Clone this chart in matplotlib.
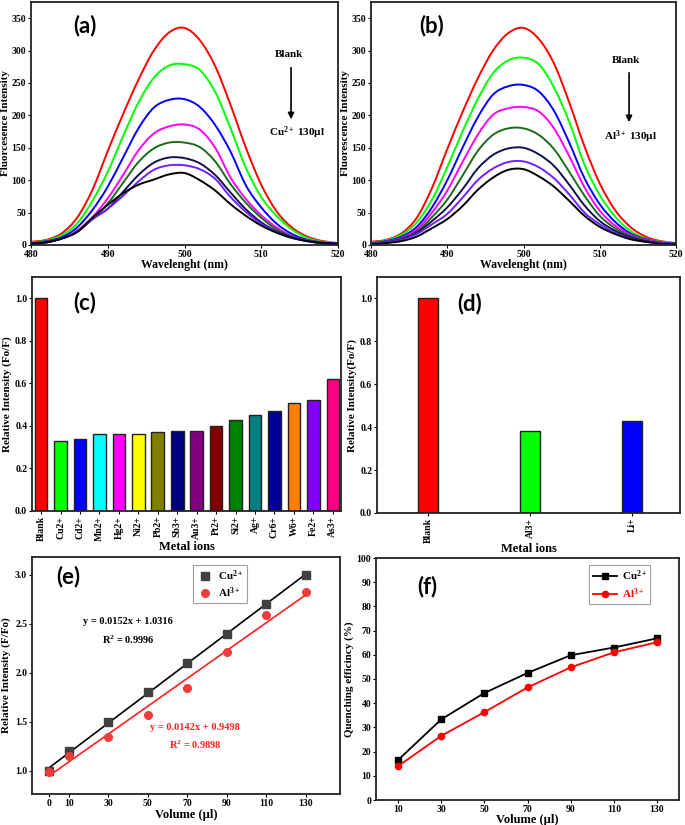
import numpy as np
import matplotlib
matplotlib.use('Agg')
import matplotlib.pyplot as plt
from matplotlib.path import Path
from matplotlib.patches import PathPatch

plt.rcParams['font.family'] = ['Liberation Serif', 'DejaVu Serif']
plt.rcParams['font.weight'] = 'bold'
plt.rcParams['mathtext.fontset'] = 'custom'
plt.rcParams['mathtext.rm'] = 'Liberation Serif:bold'
plt.rcParams['mathtext.it'] = 'Liberation Serif:bold'
plt.rcParams['mathtext.bf'] = 'Liberation Serif:bold'

# ---- data ----
wavelength = np.arange(480, 521, 2)
curve_colors = ['#ff0000', '#00ff00', '#0000ff', '#ff00ff', '#1a6b1a', '#10104f', '#7020ff', '#000000']

cu_spectra = [
    [5, 8, 18, 42, 85, 145, 202, 255, 300, 328, 335, 316, 276, 216, 150, 93, 52, 27, 13, 6, 3],
    [4, 7, 15, 33, 68, 113, 168, 220, 258, 277, 279, 270, 236, 180, 119, 74, 45, 24, 11, 5, 3],
    [3, 6, 12, 27, 54, 90, 135, 180, 212, 224, 225, 213, 185, 144, 92, 58, 33, 17, 8, 4, 2],
    [3, 5, 10, 22, 43, 72, 108, 146, 172, 183, 186, 178, 150, 104, 71, 46, 27, 14, 7, 3, 2],
    [2, 5, 10, 21, 40, 64, 96, 128, 149, 158, 158, 151, 129, 94, 65, 42, 24, 13, 7, 3, 2],
    [2, 4, 10, 20, 40, 56, 82, 108, 127, 135, 134, 126, 108, 81, 55, 35, 21, 12, 6, 3, 2],
    [2, 4, 10, 21, 40, 56, 76, 98, 116, 123, 123, 117, 102, 74, 51, 33, 20, 11, 6, 3, 2],
    [2, 4, 10, 20, 42, 62, 80, 93, 101, 109, 111, 100, 84, 63, 45, 30, 19, 11, 6, 3, 2],
]
al_spectra = [
    [5, 8, 18, 42, 88, 148, 205, 257, 300, 327, 335, 318, 280, 220, 152, 95, 54, 28, 13, 6, 3],
    [4, 7, 16, 35, 70, 120, 175, 225, 265, 285, 289, 279, 243, 190, 124, 77, 44, 22, 10, 5, 3],
    [3, 6, 13, 28, 58, 100, 150, 197, 232, 245, 247, 237, 207, 158, 103, 63, 36, 18, 9, 4, 2],
    [3, 5, 11, 24, 50, 84, 128, 170, 201, 211, 213, 206, 180, 137, 89, 53, 30, 16, 8, 4, 2],
    [2, 5, 10, 21, 43, 70, 107, 145, 170, 180, 180, 170, 148, 113, 76, 45, 26, 14, 7, 3, 2],
    [2, 4, 9, 19, 37, 58, 86, 118, 139, 149, 150, 140, 122, 93, 61, 37, 22, 12, 6, 3, 2],
    [2, 4, 8, 17, 32, 48, 73, 100, 118, 128, 129, 120, 103, 78, 50, 32, 19, 10, 5, 3, 2],
    [1, 3, 6, 13, 26, 40, 60, 85, 104, 116, 117, 106, 90, 68, 45, 28, 17, 9, 5, 2, 1],
]

ions_c = ['Blank', 'Cu2+', 'Cd2+', 'Mn2+', 'Hg2+', 'Ni2+', 'Pb2+', 'Sb3+', 'Au3+', 'Pt2+',
          'Si2+', 'Ag+', 'Cr6+', 'W6+', 'Fe2+', 'As3+']
ratio_c = [1.0, 0.33, 0.34, 0.36, 0.36, 0.36, 0.37, 0.375, 0.378, 0.40, 0.43, 0.45, 0.47, 0.51, 0.52, 0.62]
colors_c = ['#ff0000', '#00ff00', '#0000ff', '#00ffff', '#ff00ff', '#ffff00', '#808000', '#000080',
            '#800080', '#800000', '#008000', '#008080', '#000099', '#ff8000', '#8000ff', '#ff0080']

ions_d = ['Blank', 'Al3+', 'Li+']
ratio_d = [1.0, 0.38, 0.43]
colors_d = ['#ff0000', '#00ff00', '#0000ff']

vol_e = [0, 10, 30, 50, 70, 90, 110, 130]
cu_e = [1.0, 1.2, 1.5, 1.8, 2.1, 2.4, 2.7, 3.0]
al_e = [0.99, 1.15, 1.35, 1.57, 1.85, 2.21, 2.59, 2.82]
fit_cu = (0.0152, 1.0316, 0.9996)
fit_al = (0.0142, 0.9498, 0.9898)

vol_f = [10, 30, 50, 70, 90, 110, 130]
cu_f = [16.5, 33.3, 44.2, 52.5, 59.8, 63.0, 66.8]
al_f = [14.0, 26.5, 36.3, 46.5, 54.8, 61.0, 65.2]

W, H = 685, 825
fig = plt.figure(figsize=(6.85, 8.25), dpi=100)


def box(l, t, r, b):
    return fig.add_axes([l / W, 1 - b / H, (r - l) / W, (b - t) / H])


def style(ax):
    for s in ax.spines.values():
        s.set_linewidth(1.3)
        s.set_color('#222222')
    ax.tick_params(labelsize=7, length=2, width=0.8, pad=1.5)
    for lab in ax.get_xticklabels() + ax.get_yticklabels():
        lab.set_fontweight('bold')


def panel_label(ax, txt, x, y):
    ax.text(x, y, txt, transform=ax.transAxes, fontsize=16, fontweight='bold',
            family='Lato', ha='center', va='center')


def smooth_line(ax, x, y, color):
    # cubic bezier through every data point (Catmull-Rom tangents)
    p = np.column_stack([x, y]).astype(float)
    verts = [p[0]]
    codes = [Path.MOVETO]
    for i in range(len(p) - 1):
        a = p[i - 1] if i > 0 else p[i]
        d = p[i + 2] if i + 2 < len(p) else p[i + 1]
        verts += [p[i] + (p[i + 1] - a) / 6, p[i + 1] - (d - p[i]) / 6, p[i + 1]]
        codes += [Path.CURVE4] * 3
    ax.add_patch(PathPatch(Path(verts, codes), fill=False, edgecolor=color, lw=1.4))


# (a) and (b) spectra
spec_axes = [box(31, 2, 338, 245), box(371, 2, 676, 245)]
for ax, spectra, ylab, lab, lx in zip(spec_axes, [cu_spectra, al_spectra],
                                      ['Fluorcesence Intensity', 'Fluorescence Intensity'],
                                      ['(a)', '(b)'], [0.176, 0.2]):
    for vals, c in zip(spectra, curve_colors):
        smooth_line(ax, wavelength, vals, c)
    ax.set_xlim(480, 520)
    ax.set_ylim(0, 375)
    ax.set_xticks([480, 490, 500, 510, 520])
    ax.set_yticks(np.arange(0, 351, 50))
    ax.set_xlabel('Wavelenght (nm)', fontsize=8.5, fontweight='bold', labelpad=0)
    ax.set_ylabel(ylab, fontsize=8, fontweight='bold', labelpad=1)
    style(ax)
    panel_label(ax, lab, lx, 0.905)

ax = spec_axes[0]
ax.text(0.840, 0.782, 'Blank', transform=ax.transAxes, fontsize=8, ha='center', va='center')
ax.annotate('', xy=(0.847, 0.506), xytext=(0.847, 0.741), xycoords='axes fraction',
            arrowprops=dict(arrowstyle='-|>', color='k', lw=1.2, mutation_scale=9))
ax.text(0.866, 0.461, r'Cu$^{2+}$ 130µl', transform=ax.transAxes, fontsize=8, ha='center', va='center')
ax = spec_axes[1]
ax.text(0.836, 0.761, 'Blank', transform=ax.transAxes, fontsize=8, ha='center', va='center')
ax.annotate('', xy=(0.846, 0.494), xytext=(0.846, 0.720), xycoords='axes fraction',
            arrowprops=dict(arrowstyle='-|>', color='k', lw=1.2, mutation_scale=9))
ax.text(0.852, 0.444, r'Al$^{3+}$ 130µl', transform=ax.transAxes, fontsize=8, ha='center', va='center')

# (c) bars
ax = box(32, 277, 341, 511)
xc = np.arange(len(ions_c))
ax.bar(xc, ratio_c, width=0.65, color=colors_c, edgecolor='#222222', linewidth=1)
ax.set_xlim(-0.47, 15.42)
ax.set_ylim(0, 1.1)
ax.set_xticks(xc)
ax.set_xticklabels(ions_c, rotation=90)
ax.set_yticks(np.arange(0, 1.01, 0.2))
ax.set_yticklabels(['%.1f' % v for v in np.arange(0, 1.01, 0.2)])
ax.set_xlabel('Metal ions', fontsize=9, fontweight='bold', labelpad=0)
ax.set_ylabel('Relative Intensity (Fo/F)', fontsize=8, fontweight='bold', labelpad=2)
style(ax)
panel_label(ax, '(c)', 0.172, 0.889)

# (d) bars
ax = box(377, 277, 680, 513)
xd = np.arange(len(ions_d))
ax.bar(xd, ratio_d, width=0.2, color=colors_d, edgecolor='#222222', linewidth=1)
ax.set_xlim(-0.5, 2.47)
ax.set_ylim(0, 1.1)
ax.set_xticks(xd)
ax.set_xticklabels(ions_d, rotation=90)
ax.set_yticks(np.arange(0, 1.01, 0.2))
ax.set_yticklabels(['%.1f' % v for v in np.arange(0, 1.01, 0.2)])
ax.set_xlabel('Metal ions', fontsize=9, fontweight='bold', labelpad=0)
ax.set_ylabel('Relative Intensity(Fo/F)', fontsize=8, fontweight='bold', labelpad=2)
style(ax)
panel_label(ax, '(d)', 0.307, 0.889)

# (e) linear fits
ax = box(32, 557, 340, 794)
xv = np.array([vol_e[0], vol_e[-1]])
ax.plot(xv, fit_cu[0] * xv + fit_cu[1], color='k', lw=1.2)
ax.plot(xv, fit_al[0] * xv + fit_al[1], color='#ff2020', lw=1.2)
ax.plot(vol_e, cu_e, 's', color='#404040', ms=5.5, label=r'Cu$^{2+}$')
ax.plot(vol_e, al_e, 'o', color='#f03c3c', ms=5.5, label=r'Al$^{3+}$')
ax.set_xlim(-8.6, 147.2)
ax.set_ylim(0.765, 3.18)
ax.set_xticks(vol_e)
ax.set_yticks(np.arange(1.0, 3.01, 0.5))
ax.set_xlabel('Volume (µl)', fontsize=9, fontweight='bold', labelpad=1)
ax.set_ylabel('Relative Intensity (F/Fo)', fontsize=8, fontweight='bold', labelpad=3)
style(ax)
ax.text(40, 2.52, 'y = %.4fx + %.4f' % fit_cu[:2], fontsize=7.5, ha='center', va='center')
ax.text(40, 2.34, r'R$^2$ = %.4f' % fit_cu[2], fontsize=7.5, ha='center', va='center')
ax.text(74, 1.44, 'y = %.4fx + %.4f' % fit_al[:2], fontsize=7.5, ha='center', va='center', color='#ff2020')
ax.text(74, 1.27, r'R$^2$ = %.4f' % fit_al[2], fontsize=7.5, ha='center', va='center', color='#ff2020')
leg = ax.legend(loc='upper left', bbox_to_anchor=(0.506, 0.99), fontsize=8, fancybox=False,
                edgecolor='#888888', handletextpad=0.4, borderpad=0.3, labelspacing=0.2,
                handlelength=1.5)
leg.get_frame().set_linewidth(0.8)
panel_label(ax, '(e)', 0.117, 0.916)

# (f) quenching efficiency
ax = box(376, 558, 679, 800)
ax.plot(vol_f, cu_f, '-s', color='k', ms=4.5, lw=1.3, label=r'Cu$^{2+}$')
ax.plot(vol_f, al_f, '-o', color='#ff0000', ms=4.5, lw=1.3, label=r'Al$^{3+}$')
ax.set_xlim(-0.2, 140.2)
ax.set_ylim(0, 100)
ax.set_xticks(vol_f)
ax.set_yticks(np.arange(0, 101, 10))
ax.set_xlabel('Volume (µl)', fontsize=9, fontweight='bold', labelpad=0)
ax.set_ylabel('Quenching efficincy (%)', fontsize=8, fontweight='bold', labelpad=2)
style(ax)
leg = ax.legend(loc='upper left', bbox_to_anchor=(0.686, 0.995), fontsize=8, fancybox=False,
                edgecolor='#888888', handletextpad=0.4, borderpad=0.3, labelspacing=0.3,
                handlelength=2.2)
leg.get_frame().set_linewidth(0.8)
leg.get_texts()[1].set_color('#ff0000')
panel_label(ax, '(f)', 0.168, 0.884)

fig.savefig('out.png', dpi=100)
